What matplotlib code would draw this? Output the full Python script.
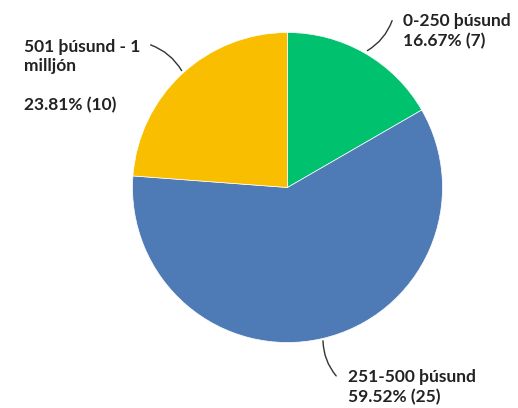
import matplotlib.pyplot as plt

# Datos del gráfico
flokkar = ["0-250 þúsund", "251-500 þúsund", "501 þúsund - 1\nmilljón\n"]
fjoldi = [7, 25, 10]
litir = ["#00C16E", "#4E7AB5", "#FABE00"]

plt.rcParams['font.family'] = ['Lato', 'DejaVu Sans']

fig = plt.figure(figsize=(5.18, 4.08), dpi=100)
W, H = 518, 408
cx, cy, r = 287.5, 187.5, 155
ax = fig.add_axes([(cx - r) / W, (H - cy - r) / H, 2 * r / W, 2 * r / H])

ax.pie(fjoldi, colors=litir, startangle=90, counterclock=False, radius=1,
       wedgeprops=dict(linewidth=0.5, edgecolor='white'))
ax.set_xlim(-1, 1)
ax.set_ylim(-1, 1)
ax.set_aspect('equal')
ax.axis('off')

samtals = sum(fjoldi)
texti = [f"{f}\n{n / samtals * 100:.2f}% ({n})" for f, n in zip(flokkar, fjoldi)]

def px(x, y):
    # pixlar -> hnit ása
    return ((x - cx) / r, (cy - y) / r)

# (oddur línu, endi línu, staðsetning texta)
leidir = [
    (px(365, 52), px(393, 18), px(403, 31)),
    (px(323, 338), px(338, 378), px(348, 387)),
    (px(183, 73), px(148, 44), px(24, 76)),
]

for t, (oddur, endi, stadur) in zip(texti, leidir):
    ax.annotate("", xy=oddur, xytext=endi,
                arrowprops=dict(arrowstyle='-', color='#333333', lw=1,
                                connectionstyle='arc3,rad=-0.2'))
    ax.text(stadur[0], stadur[1], t, ha='left', va='center', fontsize=12.5,
            fontweight='bold', color='#222222', linespacing=1.25, clip_on=False)

fig.savefig("out.png", dpi=100)
